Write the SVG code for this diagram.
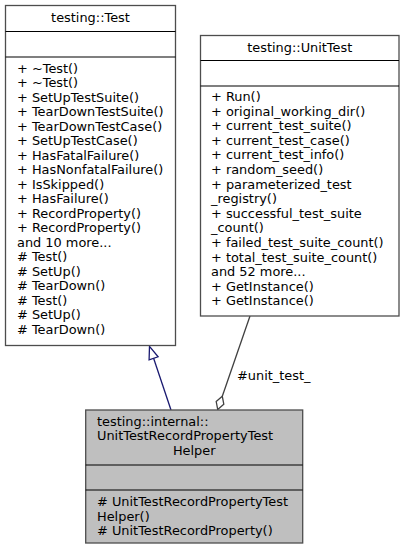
<svg xmlns="http://www.w3.org/2000/svg" width="405" height="551" viewBox="0 0 405 551">
<style>
text{font-family:"DejaVu Sans",sans-serif;font-size:12.9px;fill:#000}
.c{text-anchor:middle}
.box{fill:#fff;stroke:#4d4d4d;stroke-width:1.3}
.hl{fill:#bfbfbf;stroke:#4d4d4d;stroke-width:1.3}
.sep{stroke:#000;stroke-width:1.1}
.inh{stroke:#191970;stroke-width:1.3;fill:none}
.agg{stroke:#404040;stroke-width:1.3;fill:none}
</style>
<rect width="405" height="551" fill="#fff"/>
<g id="connectors">
<path class="inh" d="M171,410 L153.6,358.3"/>
<polygon class="inh" fill="#fff" points="149.5,346.3 158.1,356.8 149.1,359.8"/>
<path class="agg" d="M250,316 L222.3,396.3"/>
<polygon class="agg" fill="#fff" points="217.7,409.5 216.2,401.6 222.3,396.3 223.8,404.2"/>
<text x="237" y="380">#unit_test_</text>
</g>
<g id="node_test">
<rect class="box" x="5.5" y="5.5" width="170" height="340"/>
<line class="sep" x1="5.5" y1="31.5" x2="175.5" y2="31.5"/>
<line class="sep" x1="5.5" y1="57" x2="175.5" y2="57"/>
<text class="c" x="90.5" y="22">testing::Test</text>
<text x="17" y="72.5">+ ~Test()</text>
<text x="17" y="87">+ ~Test()</text>
<text x="17" y="101.5">+ SetUpTestSuite()</text>
<text x="17" y="116">+ TearDownTestSuite()</text>
<text x="17" y="130.5">+ TearDownTestCase()</text>
<text x="17" y="145">+ SetUpTestCase()</text>
<text x="17" y="159.5">+ HasFatalFailure()</text>
<text x="17" y="174">+ HasNonfatalFailure()</text>
<text x="17" y="188.5">+ IsSkipped()</text>
<text x="17" y="203">+ HasFailure()</text>
<text x="17" y="217.5">+ RecordProperty()</text>
<text x="17" y="232">+ RecordProperty()</text>
<text x="17" y="246.5">and 10 more...</text>
<text x="17" y="261"># Test()</text>
<text x="17" y="275.5"># SetUp()</text>
<text x="17" y="290"># TearDown()</text>
<text x="17" y="304.5"># Test()</text>
<text x="17" y="319"># SetUp()</text>
<text x="17" y="333.5"># TearDown()</text>
</g>
<g id="node_unittest">
<rect class="box" x="200.5" y="35.5" width="198.5" height="280.5"/>
<line class="sep" x1="200.5" y1="60.5" x2="399" y2="60.5"/>
<line class="sep" x1="200.5" y1="86" x2="399" y2="86"/>
<text class="c" x="299.75" y="52">testing::UnitTest</text>
<text x="211" y="101">+ Run()</text>
<text x="211" y="115.6">+ original_working_dir()</text>
<text x="211" y="130.2">+ current_test_suite()</text>
<text x="211" y="144.8">+ current_test_case()</text>
<text x="211" y="159.4">+ current_test_info()</text>
<text x="211" y="174">+ random_seed()</text>
<text x="211" y="188.6">+ parameterized_test</text>
<text x="211" y="203.2">_registry()</text>
<text x="211" y="217.8">+ successful_test_suite</text>
<text x="211" y="232.4">_count()</text>
<text x="211" y="247">+ failed_test_suite_count()</text>
<text x="211" y="261.6">+ total_test_suite_count()</text>
<text x="211" y="276.2">and 52 more...</text>
<text x="211" y="290.8">+ GetInstance()</text>
<text x="211" y="305.4">+ GetInstance()</text>
</g>
<g id="node_helper">
<rect class="hl" x="85.7" y="410" width="217" height="133"/>
<line class="sep" x1="85.7" y1="465" x2="302.7" y2="465"/>
<line class="sep" x1="85.7" y1="490" x2="302.7" y2="490"/>
<text x="97" y="425.5">testing::internal::</text>
<text x="97" y="440">UnitTestRecordPropertyTest</text>
<text class="c" x="194.2" y="454.5">Helper</text>
<text x="97" y="506"># UnitTestRecordPropertyTest</text>
<text x="97" y="520.5">Helper()</text>
<text x="97" y="535"># UnitTestRecordProperty()</text>
</g>
</svg>
